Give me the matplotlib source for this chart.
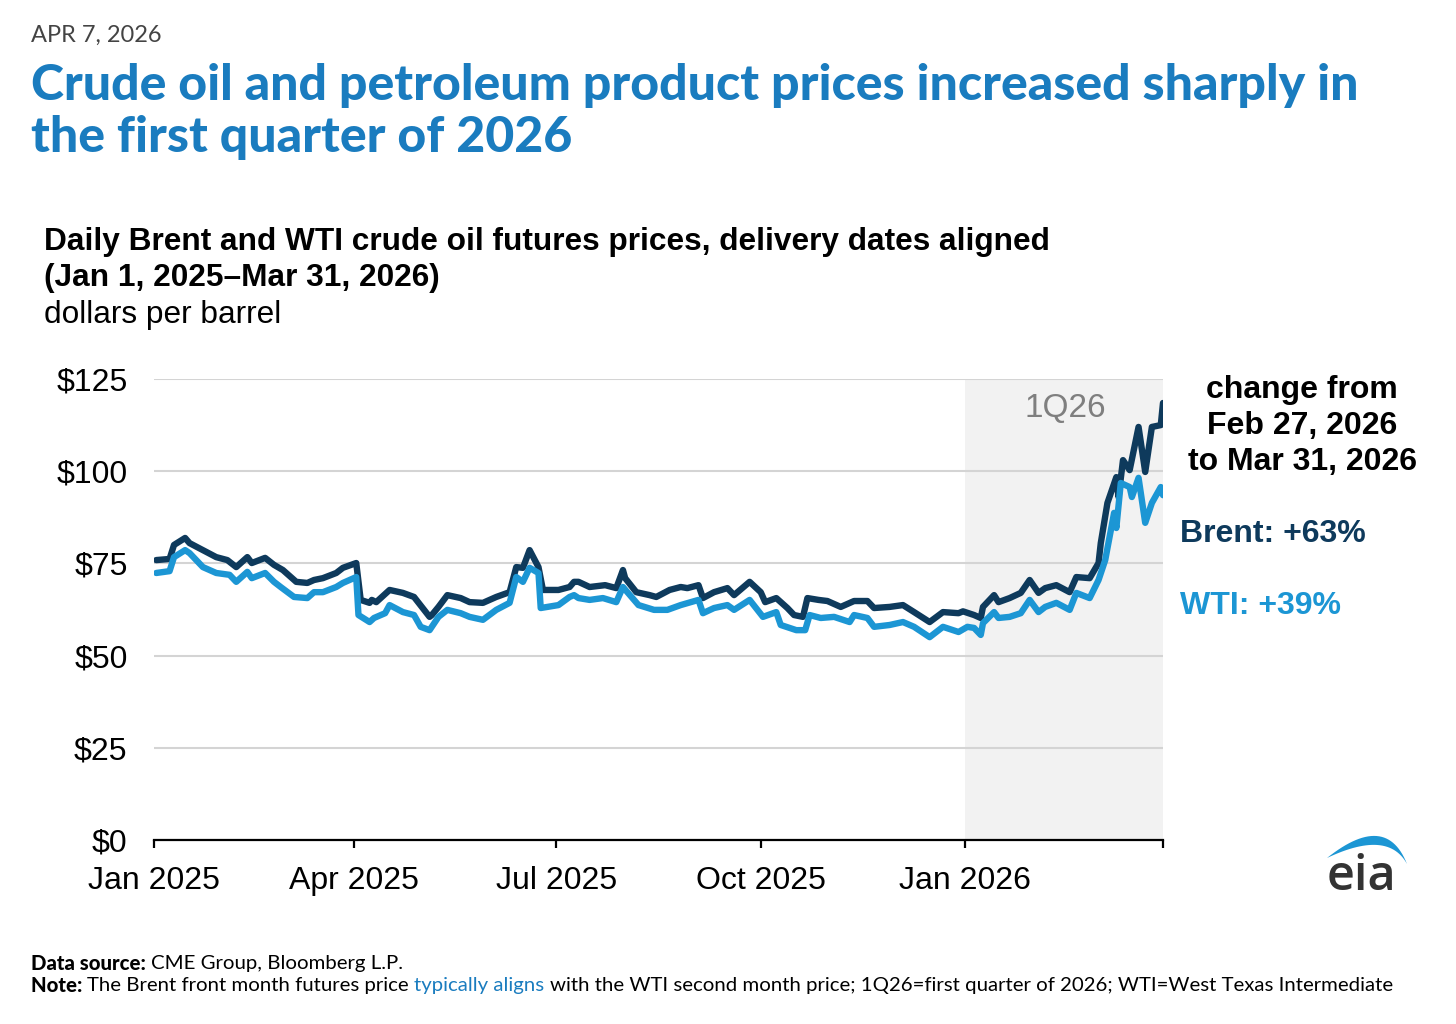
import pandas as pd
import matplotlib
matplotlib.use("Agg")
import matplotlib.pyplot as plt
from matplotlib.patches import Polygon

# ---- data (dollars per barrel) ----
brent_dates = [
    "2025-01-02", "2025-01-08", "2025-01-10", "2025-01-15", "2025-01-17", "2025-01-23", "2025-01-29",
    "2025-02-03", "2025-02-07", "2025-02-12", "2025-02-14", "2025-02-20", "2025-02-24", "2025-02-28",
    "2025-03-06", "2025-03-11", "2025-03-14", "2025-03-18", "2025-03-24", "2025-03-27",
    "2025-04-02", "2025-04-04", "2025-04-08", "2025-04-09", "2025-04-11", "2025-04-17", "2025-04-23", "2025-04-28",
    "2025-05-05", "2025-05-06", "2025-05-09", "2025-05-13", "2025-05-19", "2025-05-23", "2025-05-29",
    "2025-06-04", "2025-06-10", "2025-06-13", "2025-06-16", "2025-06-19", "2025-06-23", "2025-06-25",
    "2025-07-02", "2025-07-07", "2025-07-09", "2025-07-11", "2025-07-16", "2025-07-23", "2025-07-28", "2025-07-31",
    "2025-08-01", "2025-08-06", "2025-08-12", "2025-08-15", "2025-08-21", "2025-08-26", "2025-08-29",
    "2025-09-03", "2025-09-05", "2025-09-10", "2025-09-16", "2025-09-19", "2025-09-26",
    "2025-10-01", "2025-10-03", "2025-10-08", "2025-10-13", "2025-10-16", "2025-10-20", "2025-10-22", "2025-10-27", "2025-10-31",
    "2025-11-06", "2025-11-12", "2025-11-18", "2025-11-21", "2025-11-28",
    "2025-12-04", "2025-12-09", "2025-12-16", "2025-12-22", "2025-12-29", "2025-12-31",
    "2026-01-05", "2026-01-08", "2026-01-09", "2026-01-14", "2026-01-16", "2026-01-21", "2026-01-26", "2026-01-30",
    "2026-02-03", "2026-02-06", "2026-02-11", "2026-02-17", "2026-02-20", "2026-02-26",
    "2026-03-02", "2026-03-03", "2026-03-06", "2026-03-10", "2026-03-11", "2026-03-13", "2026-03-16",
    "2026-03-20", "2026-03-23", "2026-03-26", "2026-03-30", "2026-03-31",
]
brent_prices = [
    75.9, 76.2, 80.0, 81.9, 80.5, 78.6, 76.7,
    75.9, 74.0, 76.7, 75.1, 76.5, 74.6, 73.2,
    70.0, 69.7, 70.5, 71.0, 72.4, 73.8,
    75.1, 65.1, 64.3, 65.1, 64.5, 67.8, 67.0, 65.9,
    60.5, 61.0, 63.2, 66.4, 65.6, 64.5, 64.3,
    65.9, 67.2, 74.0, 73.8, 78.6, 74.0, 67.8,
    67.8, 68.6, 70.0, 70.0, 68.6, 69.1, 68.3, 73.2,
    71.0, 67.2, 66.4, 65.9, 67.8, 68.6, 68.3,
    69.1, 65.6, 67.2, 68.3, 66.4, 70.0,
    67.2, 64.5, 65.6, 62.9, 61.0, 60.5, 65.6, 65.1, 64.8,
    63.2, 64.8, 64.8, 62.9, 63.2,
    63.7, 61.8, 59.1, 61.8, 61.5, 62.0,
    61.0, 60.2, 63.2, 66.4, 64.5, 65.6, 67.0, 70.5,
    67.0, 68.3, 69.1, 67.2, 71.3, 71.0,
    75.1, 80.5, 91.4, 98.4, 93.0, 103.0, 100.3,
    112.0, 99.8, 112.0, 112.5, 118.5,
]

wti_dates = [
    "2025-01-02", "2025-01-08", "2025-01-10", "2025-01-15", "2025-01-17", "2025-01-23", "2025-01-29",
    "2025-02-04", "2025-02-07", "2025-02-12", "2025-02-14", "2025-02-20", "2025-02-24", "2025-02-27",
    "2025-03-05", "2025-03-11", "2025-03-14", "2025-03-18", "2025-03-24", "2025-03-27",
    "2025-04-02", "2025-04-03", "2025-04-08", "2025-04-10", "2025-04-15", "2025-04-17", "2025-04-23", "2025-04-28",
    "2025-05-01", "2025-05-05", "2025-05-09", "2025-05-13", "2025-05-19", "2025-05-23", "2025-05-29",
    "2025-06-04", "2025-06-10", "2025-06-13", "2025-06-16", "2025-06-19", "2025-06-23", "2025-06-24",
    "2025-07-02", "2025-07-07", "2025-07-09", "2025-07-11", "2025-07-16", "2025-07-22", "2025-07-28", "2025-07-31",
    "2025-08-07", "2025-08-14", "2025-08-20", "2025-08-26",
    "2025-09-03", "2025-09-05", "2025-09-10", "2025-09-16", "2025-09-19", "2025-09-26",
    "2025-10-02", "2025-10-08", "2025-10-10", "2025-10-17", "2025-10-21", "2025-10-23", "2025-10-28",
    "2025-11-03", "2025-11-10", "2025-11-12", "2025-11-18", "2025-11-21", "2025-11-28",
    "2025-12-04", "2025-12-09", "2025-12-16", "2025-12-22", "2025-12-29",
    "2026-01-02", "2026-01-05", "2026-01-08", "2026-01-09", "2026-01-14", "2026-01-16", "2026-01-21", "2026-01-26", "2026-01-30",
    "2026-02-03", "2026-02-06", "2026-02-11", "2026-02-17", "2026-02-20", "2026-02-26",
    "2026-03-02", "2026-03-05", "2026-03-09", "2026-03-10", "2026-03-12", "2026-03-16", "2026-03-17",
    "2026-03-20", "2026-03-23", "2026-03-26", "2026-03-30", "2026-03-31",
]
wti_prices = [
    72.4, 72.9, 76.7, 78.6, 77.8, 74.0, 72.4,
    71.9, 70.0, 72.7, 71.0, 72.4, 70.0, 68.6,
    65.9, 65.6, 67.2, 67.2, 68.6, 69.7,
    71.3, 61.0, 59.1, 60.2, 61.5, 63.7, 61.8, 61.0,
    57.8, 56.9, 60.5, 62.4, 61.5, 60.5, 59.7,
    62.4, 64.3, 71.3, 70.0, 73.8, 72.4, 62.9,
    63.7, 65.9, 66.4, 65.6, 65.1, 65.6, 64.5, 68.6,
    63.7, 62.4, 62.4, 63.7,
    65.1, 61.5, 62.9, 63.7, 62.4, 65.1,
    60.5, 61.8, 58.3, 56.9, 56.9, 61.0, 60.2,
    60.5, 59.1, 61.0, 60.2, 57.8, 58.3,
    59.1, 57.8, 55.0, 57.8, 56.4,
    57.8, 57.5, 55.6, 58.8, 61.8, 60.2, 60.5, 61.5, 65.1,
    61.8, 63.2, 64.3, 62.4, 67.0, 65.6,
    70.5, 75.9, 88.7, 84.6, 96.8, 95.7, 93.0,
    98.2, 86.0, 91.4, 95.7, 93.5,
]

y_ticks = [0, 25, 50, 75, 100, 125]
y_labels = ["$0", "$25", "$50", "$75", "$100", "$125"]
x_ticks = ["2025-01-01", "2025-04-01", "2025-07-01", "2025-10-01", "2026-01-01"]
x_labels = ["Jan 2025", "Apr 2025", "Jul 2025", "Oct 2025", "Jan 2026"]
quarter_start = "2026-01-01"
period_end = "2026-03-31"
brent_change = "+63%"
wti_change = "+39%"

brent_color = "#0e3a5c"
wti_color = "#1c96d4"
title_blue = "#1a7cbf"

W, H = 1456, 1024
fig = plt.figure(figsize=(W / 100, H / 100), dpi=100)


def fx(px):
    return px / W


def fy(py):
    return 1 - py / H


# main axes placed to match the reference pixel box
ax = fig.add_axes([fx(154), fy(840), fx(1163) - fx(154), fy(379) - fy(840)])

ax.axvspan(pd.Timestamp(quarter_start), pd.Timestamp(period_end), color="#f2f2f2", zorder=0.1, lw=0)
ax.plot(pd.to_datetime(brent_dates), brent_prices, color=brent_color, lw=4.6,
        solid_joinstyle="round", solid_capstyle="round", zorder=3)
ax.plot(pd.to_datetime(wti_dates), wti_prices, color=wti_color, lw=4.6,
        solid_joinstyle="round", solid_capstyle="round", zorder=3)

ax.set_xlim(pd.Timestamp("2025-01-01"), pd.Timestamp(period_end))
ax.set_ylim(0, 125)

for s in ["top", "right", "left"]:
    ax.spines[s].set_visible(False)
ax.spines["bottom"].set_color("black")
ax.spines["bottom"].set_linewidth(1.6)
ax.spines["bottom"].set_zorder(4)

ax.set_axisbelow(True)
ax.yaxis.grid(True, color="#d4d4d4", lw=1.5)
ax.set_yticks(y_ticks)
ax.set_yticklabels(y_labels, fontsize=23, family="Liberation Sans")
ax.tick_params(axis="y", length=0, pad=19)

ax.set_xticks(pd.to_datetime(x_ticks))
ax.set_xticklabels(x_labels, fontsize=23, family="Liberation Sans")
ax.set_xticks([pd.Timestamp(period_end)], minor=True)
ax.tick_params(axis="x", which="both", direction="out", length=6, width=1.6, color="black", pad=13)

ax.text(pd.Timestamp("2026-02-15"), 117, "1Q26", fontsize=24, color="#7f7f7f",
        family="Liberation Sans", ha="center", va="center")

# ---- headline texts ----
fig.text(fx(31), fy(35), "APR 7, 2026", fontsize=17, color="#444444", family="Lato", va="center")
fig.text(fx(31), fy(85), "Crude oil and petroleum product prices increased sharply in",
         fontsize=36, color=title_blue, family="Lato", weight="black", va="center")
fig.text(fx(31), fy(137), "the first quarter of 2026",
         fontsize=36, color=title_blue, family="Lato", weight="black", va="center")

fig.text(fx(44), fy(242), "Daily Brent and WTI crude oil futures prices, delivery dates aligned",
         fontsize=22.8, weight="bold", family="Liberation Sans", va="center")
fig.text(fx(44), fy(278), "(Jan 1, 2025\u2013Mar 31, 2026)",
         fontsize=22.8, weight="bold", family="Liberation Sans", va="center")
fig.text(fx(44), fy(315), "dollars per barrel", fontsize=22.8, family="Liberation Sans", va="center")

# ---- right-hand annotation ----
fig.text(fx(1302), fy(426), "change from\nFeb 27, 2026\nto Mar 31, 2026", fontsize=23, weight="bold",
         family="Liberation Sans", ha="center", va="center", linespacing=1.26)
fig.text(fx(1180), fy(534), "Brent: " + brent_change, fontsize=23, weight="bold",
         family="Liberation Sans", color=brent_color, va="center")
fig.text(fx(1180), fy(606), "WTI: " + wti_change, fontsize=23, weight="bold",
         family="Liberation Sans", color=wti_color, va="center")

# ---- footer with mixed styles ----
renderer = fig.canvas.get_renderer()


def text_runs(x0, y0, runs, size):
    x = x0
    for txt, weight, color in runs:
        t = fig.text(fx(x), fy(y0), txt, fontsize=size, weight=weight, color=color,
                     family="Lato", va="center")
        x = t.get_window_extent(renderer).x1


text_runs(31, 963, [("Data source: ", "black", "black"),
                    ("CME Group, Bloomberg L.P.", "normal", "black")], 14.7)
text_runs(31, 986, [("Note: ", "black", "black"),
                    ("The Brent front month futures price ", "normal", "black"),
                    ("typically aligns ", "normal", title_blue),
                    ("with the WTI second month price; 1Q26=first quarter of 2026; WTI=West Texas Intermediate",
                     "normal", "black")], 14.7)

# ---- eia logo ----
fig.text(fx(1361), fy(877), "eia", fontsize=35, color="#333333", family="Open Sans",
         weight="semibold", ha="center", va="center")
p0, p2 = (1327, 858), (1407, 864)
outer_c, inner_c = (1386, 811), (1388, 829)


def bez(c, n=30):
    pts = []
    for i in range(n + 1):
        t = i / n
        px = (1 - t) ** 2 * p0[0] + 2 * (1 - t) * t * c[0] + t ** 2 * p2[0]
        py = (1 - t) ** 2 * p0[1] + 2 * (1 - t) * t * c[1] + t ** 2 * p2[1]
        pts.append((fx(px), fy(py)))
    return pts


arc = bez(outer_c) + bez(inner_c)[::-1]
fig.patches.append(Polygon(arc, closed=True, transform=fig.transFigure, color="#1c96d4", lw=0))

fig.savefig("out.png", dpi=100)
